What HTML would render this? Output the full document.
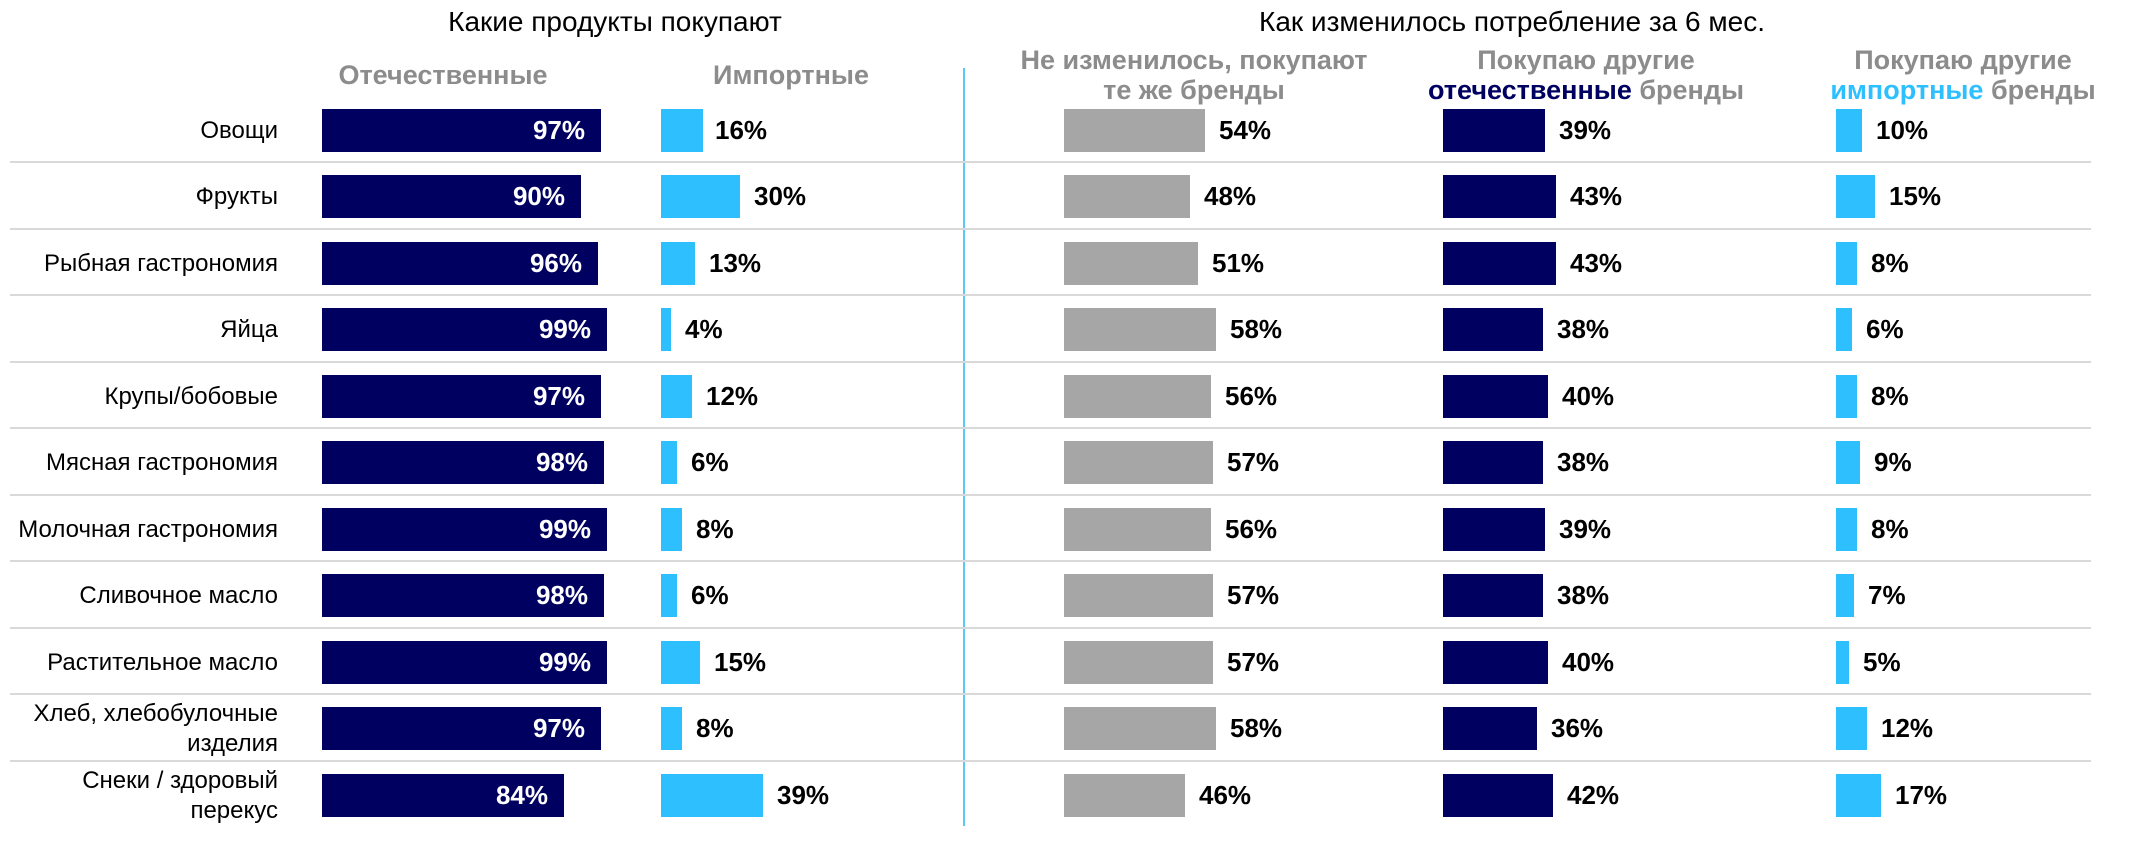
<!DOCTYPE html>
<html><head><meta charset="utf-8"><style>
body{margin:0;width:2148px;height:842px;background:#fff;position:relative;overflow:hidden;font-family:"Liberation Sans",Arial,sans-serif}
.a{position:absolute}
.t{font-size:28px;color:#000;white-space:nowrap;transform:translateX(-50%)}
.h{font-size:27px;font-weight:bold;color:#8c8c8c;white-space:nowrap;text-align:center;transform:translateX(-50%);line-height:30px}
.r{position:absolute;left:0;width:2148px;height:43px}
.lb{position:absolute;right:1870px;font-size:24px;line-height:43px;white-space:nowrap;text-align:right}
.lb2{position:absolute;right:1870px;font-size:24px;line-height:30px;top:-8px;white-space:nowrap;text-align:right}
.b{position:absolute;top:0;height:43px}
.n{background:#000060}.c{background:#2ebfff}.g{background:#a6a6a6}
.v{position:absolute;font-size:26px;font-weight:bold;line-height:43px;top:0;white-space:nowrap}
.w{color:#fff;text-align:right}
.s{position:absolute;left:10px;width:2081px;height:2px;background:#d9d9d9}
</style></head><body>
<div class="a t" style="left:615px;top:6px">Какие продукты покупают</div>
<div class="a t" style="left:1512px;top:6px">Как изменилось потребление за 6 мес.</div>
<div class="a h" style="left:443px;top:60px">Отечественные</div>
<div class="a h" style="left:791px;top:60px">Импортные</div>
<div class="a h" style="left:1194px;top:45px">Не изменилось, покупают<br>те же бренды</div>
<div class="a h" style="left:1586px;top:45px">Покупаю другие<br><span style="color:#000060">отечественные</span> бренды</div>
<div class="a h" style="left:1963px;top:45px">Покупаю другие<br><span style="color:#2ebfff">импортные</span> бренды</div>
<div class="a" style="left:963px;top:68px;width:2px;height:758px;background:#5cc8f5"></div>
<div class="s" style="top:161px"></div><div class="s" style="top:228px"></div><div class="s" style="top:294px"></div><div class="s" style="top:361px"></div><div class="s" style="top:427px"></div><div class="s" style="top:494px"></div><div class="s" style="top:560px"></div><div class="s" style="top:627px"></div><div class="s" style="top:693px"></div><div class="s" style="top:760px"></div>

<div class="r" style="top:109px"><div class="lb">Овощи</div>
<div class="b n" style="left:322px;width:279px"></div><div class="v w" style="right:1563px">97%</div>
<div class="b c" style="left:661px;width:42px"></div><div class="v" style="left:715px">16%</div>
<div class="b g" style="left:1064px;width:141px"></div><div class="v" style="left:1219px">54%</div>
<div class="b n" style="left:1443px;width:102px"></div><div class="v" style="left:1559px">39%</div>
<div class="b c" style="left:1836px;width:26px"></div><div class="v" style="left:1876px">10%</div></div>

<div class="r" style="top:175px"><div class="lb">Фрукты</div>
<div class="b n" style="left:322px;width:259px"></div><div class="v w" style="right:1583px">90%</div>
<div class="b c" style="left:661px;width:79px"></div><div class="v" style="left:754px">30%</div>
<div class="b g" style="left:1064px;width:126px"></div><div class="v" style="left:1204px">48%</div>
<div class="b n" style="left:1443px;width:113px"></div><div class="v" style="left:1570px">43%</div>
<div class="b c" style="left:1836px;width:39px"></div><div class="v" style="left:1889px">15%</div></div>

<div class="r" style="top:242px"><div class="lb">Рыбная гастрономия</div>
<div class="b n" style="left:322px;width:276px"></div><div class="v w" style="right:1566px">96%</div>
<div class="b c" style="left:661px;width:34px"></div><div class="v" style="left:709px">13%</div>
<div class="b g" style="left:1064px;width:134px"></div><div class="v" style="left:1212px">51%</div>
<div class="b n" style="left:1443px;width:113px"></div><div class="v" style="left:1570px">43%</div>
<div class="b c" style="left:1836px;width:21px"></div><div class="v" style="left:1871px">8%</div></div>

<div class="r" style="top:308px"><div class="lb">Яйца</div>
<div class="b n" style="left:322px;width:285px"></div><div class="v w" style="right:1557px">99%</div>
<div class="b c" style="left:661px;width:10px"></div><div class="v" style="left:685px">4%</div>
<div class="b g" style="left:1064px;width:152px"></div><div class="v" style="left:1230px">58%</div>
<div class="b n" style="left:1443px;width:100px"></div><div class="v" style="left:1557px">38%</div>
<div class="b c" style="left:1836px;width:16px"></div><div class="v" style="left:1866px">6%</div></div>

<div class="r" style="top:375px"><div class="lb">Крупы/бобовые</div>
<div class="b n" style="left:322px;width:279px"></div><div class="v w" style="right:1563px">97%</div>
<div class="b c" style="left:661px;width:31px"></div><div class="v" style="left:706px">12%</div>
<div class="b g" style="left:1064px;width:147px"></div><div class="v" style="left:1225px">56%</div>
<div class="b n" style="left:1443px;width:105px"></div><div class="v" style="left:1562px">40%</div>
<div class="b c" style="left:1836px;width:21px"></div><div class="v" style="left:1871px">8%</div></div>

<div class="r" style="top:441px"><div class="lb">Мясная гастрономия</div>
<div class="b n" style="left:322px;width:282px"></div><div class="v w" style="right:1560px">98%</div>
<div class="b c" style="left:661px;width:16px"></div><div class="v" style="left:691px">6%</div>
<div class="b g" style="left:1064px;width:149px"></div><div class="v" style="left:1227px">57%</div>
<div class="b n" style="left:1443px;width:100px"></div><div class="v" style="left:1557px">38%</div>
<div class="b c" style="left:1836px;width:24px"></div><div class="v" style="left:1874px">9%</div></div>

<div class="r" style="top:508px"><div class="lb">Молочная гастрономия</div>
<div class="b n" style="left:322px;width:285px"></div><div class="v w" style="right:1557px">99%</div>
<div class="b c" style="left:661px;width:21px"></div><div class="v" style="left:696px">8%</div>
<div class="b g" style="left:1064px;width:147px"></div><div class="v" style="left:1225px">56%</div>
<div class="b n" style="left:1443px;width:102px"></div><div class="v" style="left:1559px">39%</div>
<div class="b c" style="left:1836px;width:21px"></div><div class="v" style="left:1871px">8%</div></div>

<div class="r" style="top:574px"><div class="lb">Сливочное масло</div>
<div class="b n" style="left:322px;width:282px"></div><div class="v w" style="right:1560px">98%</div>
<div class="b c" style="left:661px;width:16px"></div><div class="v" style="left:691px">6%</div>
<div class="b g" style="left:1064px;width:149px"></div><div class="v" style="left:1227px">57%</div>
<div class="b n" style="left:1443px;width:100px"></div><div class="v" style="left:1557px">38%</div>
<div class="b c" style="left:1836px;width:18px"></div><div class="v" style="left:1868px">7%</div></div>

<div class="r" style="top:641px"><div class="lb">Растительное масло</div>
<div class="b n" style="left:322px;width:285px"></div><div class="v w" style="right:1557px">99%</div>
<div class="b c" style="left:661px;width:39px"></div><div class="v" style="left:714px">15%</div>
<div class="b g" style="left:1064px;width:149px"></div><div class="v" style="left:1227px">57%</div>
<div class="b n" style="left:1443px;width:105px"></div><div class="v" style="left:1562px">40%</div>
<div class="b c" style="left:1836px;width:13px"></div><div class="v" style="left:1863px">5%</div></div>

<div class="r" style="top:707px"><div class="lb2">Хлеб, хлебобулочные<br>изделия</div>
<div class="b n" style="left:322px;width:279px"></div><div class="v w" style="right:1563px">97%</div>
<div class="b c" style="left:661px;width:21px"></div><div class="v" style="left:696px">8%</div>
<div class="b g" style="left:1064px;width:152px"></div><div class="v" style="left:1230px">58%</div>
<div class="b n" style="left:1443px;width:94px"></div><div class="v" style="left:1551px">36%</div>
<div class="b c" style="left:1836px;width:31px"></div><div class="v" style="left:1881px">12%</div></div>

<div class="r" style="top:774px"><div class="lb2">Снеки / здоровый<br>перекус</div>
<div class="b n" style="left:322px;width:242px"></div><div class="v w" style="right:1600px">84%</div>
<div class="b c" style="left:661px;width:102px"></div><div class="v" style="left:777px">39%</div>
<div class="b g" style="left:1064px;width:121px"></div><div class="v" style="left:1199px">46%</div>
<div class="b n" style="left:1443px;width:110px"></div><div class="v" style="left:1567px">42%</div>
<div class="b c" style="left:1836px;width:45px"></div><div class="v" style="left:1895px">17%</div></div>
</body></html>
